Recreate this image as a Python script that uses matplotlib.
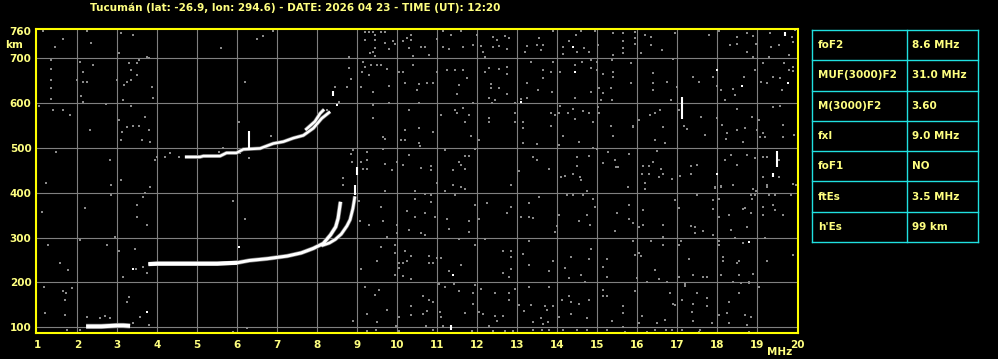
import numpy as np
import matplotlib.pyplot as plt

title = "Tucumán (lat: -26.9, lon: 294.6) - DATE: 2026 04 23 - TIME (UT): 12:20"
freq_ticks = list(range(1, 21))
height_ticks = [100, 200, 300, 400, 500, 600, 700, 760]

param_names = ["foF2", "MUF(3000)F2", "M(3000)F2", "fxI", "foF1", "ftEs", "h'Es"]
param_values = ["8.6 MHz", "31.0 MHz", "3.60", "9.0 MHz", "NO", "3.5 MHz", "99 km"]

# sporadic E trace
es_f = [2.22, 2.4, 2.6, 2.8, 3.0, 3.15, 3.32]
es_h = [102, 102, 102, 103, 104, 104, 103]

# F2 ordinary trace
o_f = [3.78, 4.0, 4.5, 5.0, 5.5, 6.0, 6.3, 6.75, 7.25, 7.6, 7.9, 8.15, 8.33, 8.46, 8.52, 8.58]
o_h = [241, 242, 242, 242, 242, 244, 249, 253, 259, 266, 276, 287, 306, 324, 343, 380]

# F2 extraordinary trace
x_f = [8.1, 8.3, 8.45, 8.6, 8.74, 8.82, 8.89, 8.94]
x_h = [282, 288, 296, 308, 326, 340, 365, 392]

# second hop (2F) traces
f2_f = [4.69, 5.07, 5.15, 5.57, 5.73, 5.98, 6.15, 6.57, 6.9, 7.15, 7.4, 7.65, 7.9, 8.11, 8.32]
f2_h = [480, 480, 482, 482, 489, 489, 497, 499, 510, 514, 522, 528, 544, 566, 581]
f2x_f = [7.7, 7.94, 8.07, 8.17]
f2x_h = [540, 559, 577, 586]

# isolated white echoes
spot_f = [3.4, 3.73, 6.03, 11.39, 13.1, 14.39, 14.44, 18.8, 19.77, 17.98, 18.63, 17.98, 8.5]
spot_h = [229, 135, 280, 217, 603, 726, 670, 291, 645, 675, 639, 443, 596]
spike_f = [6.28, 8.4, 11.33, 17.13, 19.48, 19.4, 19.69, 8.95, 8.98]
spike_lo = [500, 617, 95, 565, 458, 436, 749, 396, 440]
spike_hi = [538, 626, 106, 613, 493, 445, 759, 418, 457]

# grey background noise (freq MHz, height km)
noise = [
    (1.14, 762), (1.64, 742), (1.45, 726), (1.34, 696), (1.34, 677), (1.34, 651), (1.34, 633),
    (1.34, 610), (1.03, 593), (1.39, 584), (1.64, 584), (2.24, 762), (2.34, 735), (2.07, 692),
    (2.39, 685), (2.14, 670), (2.14, 648), (2.25, 648), (2.0, 651), (2.09, 616), (2.14, 603),
    (2.72, 598), (3.09, 757), (3.39, 752), (3.03, 711), (3.28, 690), (3.34, 674), (3.49, 689),
    (3.55, 696), (3.74, 704), (3.78, 700), (3.49, 663), (3.34, 651), (3.24, 648), (3.0, 651),
    (3.17, 640), (3.86, 637), (3.9, 611), (3.14, 607), (3.34, 593), (5.59, 724), (6.2, 648),
    (6.49, 742), (6.65, 750), (6.89, 762), (8.8, 702), (8.8, 678), (8.84, 653), (8.74, 635),
    (8.43, 635), (8.55, 603), (8.24, 584),
    (3.03, 562), (3.11, 536), (3.23, 547), (3.4, 549), (3.53, 549), (3.78, 539), (3.69, 568),
    (3.61, 518), (3.82, 514), (3.08, 518), (2.82, 473), (3.94, 473), (4.0, 479), (4.19, 479),
    (4.32, 489), (4.54, 480), (6.03, 559), (6.83, 527), (8.9, 495), (8.83, 487), (8.86, 469),
    (5.53, 492), (5.65, 501), (6.28, 478), (6.07, 488),
    (3.08, 429), (2.83, 417), (2.83, 395), (3.82, 414), (3.69, 399), (3.48, 373), (3.63, 391),
    (3.48, 347), (3.73, 328), (2.94, 302), (2.73, 284), (3.03, 271), (3.44, 275), (3.13, 213),
    (3.73, 222), (3.65, 235), (3.47, 231), (5.88, 382), (6.19, 341), (8.63, 432), (8.63, 417),
    (9.03, 382), (9.07, 338), (9.08, 230),
    (1.47, 491), (1.22, 421), (1.12, 357), (1.27, 284), (1.57, 243), (1.77, 228), (2.07, 295),
    (2.19, 366), (2.32, 540), (1.82, 573),
    (1.17, 191), (1.65, 182), (1.72, 176), (1.7, 162), (1.86, 187), (1.18, 131), (1.7, 127),
    (1.74, 94), (2.24, 122), (2.07, 94), (2.57, 120), (2.7, 125), (2.82, 120), (3.28, 168),
    (3.24, 157), (3.4, 109), (3.78, 105), (3.57, 122), (5.9, 90), (6.24, 98), (8.89, 113),
    (9.2, 758), (9.3, 758), (9.39, 758), (9.59, 758), (9.7, 758), (9.19, 741), (9.43, 752),
    (9.44, 741), (9.43, 722), (9.39, 714), (9.44, 706), (9.32, 711), (9.7, 735), (9.89, 738),
    (9.95, 733), (9.8, 720), (10.24, 746), (10.35, 752), (10.35, 741), (10.14, 738), (10.28, 722),
    (10.4, 706), (10.6, 726), (10.7, 726), (10.8, 707), (10.99, 743), (11.14, 761), (11.34, 752),
    (11.14, 726), (11.3, 720), (11.64, 726), (11.59, 761), (11.99, 752), (11.89, 729), (12.1, 728),
    (12.14, 713), (12.2, 703), (12.39, 748), (12.5, 741), (12.7, 750), (12.8, 746), (12.39, 726),
    (12.55, 728), (12.74, 720), (13.18, 714), (13.24, 728), (13.55, 746), (13.49, 729), (13.65, 729),
    (13.58, 718), (13.89, 761), (14.13, 726), (14.3, 738), (14.47, 752), (14.59, 761), (14.13, 709),
    (14.49, 714), (14.67, 722), (14.79, 714), (14.95, 761), (15.02, 729),
    (9.14, 691), (9.2, 681), (9.11, 670), (9.35, 686), (9.49, 686), (9.6, 686), (9.74, 676),
    (9.3, 662), (9.09, 636), (9.39, 625), (9.8, 639), (10.05, 670), (10.14, 670), (10.4, 686),
    (10.2, 646), (10.5, 629), (10.55, 642), (10.74, 646), (10.89, 646), (11.24, 674), (11.43, 674),
    (11.64, 674), (11.74, 655), (11.54, 640), (11.49, 620), (11.0, 670), (12.18, 670), (12.3, 679),
    (12.53, 677), (12.74, 681), (12.74, 664), (12.34, 642), (12.34, 634), (12.53, 634), (12.74, 620),
    (12.3, 612), (12.45, 607), (12.36, 601), (12.95, 601), (13.1, 609), (13.24, 646), (13.35, 691),
    (13.65, 674), (13.64, 656), (13.84, 670), (13.88, 691), (14.07, 670), (13.24, 612), (13.51, 629),
    (13.86, 625), (14.44, 685), (14.61, 691), (14.84, 696), (14.99, 691), (14.85, 679), (15.0, 674),
    (14.45, 612), (14.84, 625), (15.04, 633),
    (9.39, 595), (9.39, 567), (9.8, 601), (9.64, 525), (9.7, 521), (10.28, 584), (10.2, 540),
    (10.09, 517), (10.2, 517), (10.53, 601), (10.54, 545), (10.53, 512), (10.57, 505), (10.89, 536),
    (11.09, 573), (11.43, 584), (11.49, 577), (11.64, 589), (11.78, 573), (11.9, 601), (11.7, 558),
    (11.85, 527), (12.05, 517), (12.28, 567), (12.28, 558), (12.95, 577), (12.95, 558), (13.13, 558),
    (13.13, 545), (13.84, 579), (13.94, 573), (14.07, 594), (14.05, 577), (14.28, 577), (14.4, 588),
    (14.45, 564), (14.63, 582), (14.8, 577), (14.9, 558), (15.05, 577), (13.85, 549), (14.14, 527),
    (14.05, 506), (14.54, 514), (13.14, 510), (13.49, 508), (15.02, 592),
    (9.24, 491), (9.09, 469), (9.24, 473), (9.24, 453), (9.15, 453), (9.64, 497), (9.68, 465),
    (9.86, 450), (9.99, 469), (10.29, 485), (10.14, 463), (10.59, 456), (10.84, 460), (10.84, 450),
    (11.2, 495), (11.55, 469), (11.6, 463), (11.7, 482), (11.8, 482), (11.7, 453), (11.4, 450),
    (11.94, 497), (13.05, 448), (13.39, 480), (13.49, 473), (13.79, 454), (14.09, 436), (14.2, 438),
    (14.4, 441), (14.57, 436), (14.49, 460), (14.79, 482), (14.89, 500), (15.0, 497), (14.5, 480),
    (9.7, 405), (10.45, 405), (10.68, 397), (10.84, 396), (10.99, 422), (11.39, 418), (11.59, 412),
    (11.7, 409), (11.2, 405), (11.45, 396), (10.84, 379), (10.45, 387), (10.24, 360), (10.45, 345),
    (10.7, 355), (10.95, 345), (11.24, 342), (11.28, 320), (10.59, 310), (10.7, 307), (10.3, 318),
    (9.99, 310), (9.99, 329), (9.74, 301), (9.28, 329), (9.64, 338), (9.59, 368), (11.94, 373),
    (12.03, 342), (11.8, 338), (11.8, 312), (12.24, 377), (12.74, 355), (12.85, 368), (12.84, 418),
    (13.1, 345), (13.3, 345), (13.39, 344), (13.3, 377), (13.55, 390), (14.24, 394), (14.4, 396),
    (14.63, 396), (14.75, 405), (14.89, 387), (14.95, 368), (14.74, 351), (14.55, 338), (14.82, 329),
    (14.04, 351), (13.99, 325), (13.95, 312), (14.59, 429),
    (11.55, 297), (12.2, 297), (11.94, 284), (13.3, 293), (9.59, 280), (9.95, 284), (9.95, 266),
    (10.2, 271), (10.35, 260), (9.5, 248), (10.05, 243), (10.14, 243), (10.24, 247), (9.95, 217),
    (10.14, 214), (10.34, 208), (10.03, 232), (9.1, 231), (10.8, 258), (11.0, 254), (11.1, 254),
    (10.8, 243), (10.89, 243), (11.28, 226), (11.59, 238), (12.65, 271), (12.84, 271), (12.85, 256),
    (12.64, 221), (12.8, 212), (12.84, 231), (13.14, 263), (13.3, 238), (13.8, 226), (13.89, 248),
    (14.2, 232), (14.34, 256), (14.29, 210), (14.59, 217), (14.85, 275), (14.79, 253), (14.7, 201),
    (9.2, 191), (9.53, 184), (9.45, 173), (9.24, 129), (9.49, 112), (9.74, 139), (10.03, 124),
    (10.35, 147), (10.34, 127), (10.64, 169), (10.64, 129), (10.74, 137), (10.78, 161), (10.89, 156),
    (11.05, 196), (11.2, 191), (11.42, 196), (11.55, 182), (11.07, 135), (11.1, 122), (11.7, 132),
    (11.94, 195), (11.89, 176), (11.89, 152), (12.09, 186), (12.05, 134), (12.15, 129), (12.28, 102),
    (12.45, 176), (12.45, 126), (12.49, 113), (12.64, 126), (12.8, 176), (12.8, 161), (12.95, 186),
    (13.05, 150), (13.17, 137), (13.3, 191), (13.34, 150), (13.39, 112), (13.59, 121), (13.65, 107),
    (13.7, 147), (13.74, 139), (13.77, 112), (13.89, 147), (13.8, 191), (14.05, 122), (14.11, 161),
    (14.3, 169), (14.34, 156), (14.35, 129), (14.55, 152), (14.79, 161), (14.74, 121), (10.71, 102),
    (11.14, 102), (9.97, 102), (9.24, 92), (9.47, 94), (10.03, 92), (10.89, 94), (11.86, 91),
    (12.4, 91), (12.69, 91), (12.9, 92), (13.4, 94), (13.61, 94), (13.8, 94), (14.14, 94),
    (14.49, 94), (14.74, 94),
    (15.39, 756), (15.64, 757), (15.64, 739), (15.64, 722), (15.64, 711), (15.4, 707), (15.95, 759),
    (15.95, 745), (15.95, 733), (16.09, 711), (16.2, 752), (16.34, 748), (16.34, 730), (16.61, 719),
    (16.95, 756), (16.89, 698), (17.8, 752), (18.03, 762), (18.49, 748), (18.32, 730), (18.5, 732),
    (18.74, 756), (18.9, 750), (18.97, 733), (18.74, 715), (18.9, 704), (19.32, 756), (19.34, 726),
    (19.54, 730), (19.3, 704), (19.67, 689), (19.8, 707), (19.9, 737), (19.87, 748), (19.94, 763),
    (15.36, 696), (15.84, 689), (15.39, 670), (15.39, 659), (15.14, 665), (15.34, 633), (15.14, 622),
    (15.36, 607), (15.84, 644), (16.39, 668), (16.39, 644), (16.39, 629), (16.74, 648), (16.99, 637),
    (16.84, 607), (17.39, 658), (17.53, 648), (17.9, 659), (17.99, 638), (18.09, 629), (18.2, 607),
    (18.39, 631), (18.45, 618), (18.67, 658), (18.95, 674), (19.15, 689), (19.24, 644), (19.57, 655),
    (19.61, 629), (19.8, 674), (19.89, 672), (19.9, 681), (19.1, 648), (19.4, 659), (15.09, 607),
    (16.45, 577), (16.57, 585), (16.32, 573), (16.05, 562), (15.9, 549), (15.89, 546), (16.64, 547),
    (16.45, 518), (16.7, 512), (15.34, 549), (15.39, 527), (17.17, 549), (17.25, 542), (17.03, 585),
    (17.59, 570), (17.7, 529), (17.99, 566), (18.11, 551), (18.24, 533), (18.22, 521), (18.49, 588),
    (18.49, 540), (18.7, 544), (19.03, 562), (19.14, 533), (19.07, 525), (19.2, 525), (19.64, 551),
    (19.64, 525), (19.92, 529), (19.4, 592), (19.57, 594), (18.64, 514), (18.86, 568), (18.99, 540),
    (15.28, 492), (15.45, 473), (15.47, 458), (15.53, 458), (15.8, 486), (16.15, 460), (16.3, 460),
    (16.4, 469), (16.5, 494), (16.59, 454), (16.65, 442), (16.86, 430), (17.07, 437), (17.34, 460),
    (17.49, 462), (17.34, 442), (18.2, 473), (18.34, 484), (18.49, 462), (18.74, 484), (18.95, 477),
    (19.15, 479), (19.24, 479), (19.53, 473), (19.55, 436), (19.14, 436), (19.24, 417), (19.9, 420),
    (17.95, 414), (18.09, 415), (18.39, 417), (16.11, 443), (16.2, 421), (16.3, 442), (15.15, 466),
    (15.78, 414), (16.55, 436),
    (16.2, 408), (17.95, 411), (18.09, 414), (18.9, 408), (18.96, 403), (19.24, 414), (19.96, 417),
    (17.49, 395), (16.95, 384), (17.9, 384), (18.03, 386), (18.84, 395), (18.94, 395), (18.86, 386),
    (19.3, 395), (19.45, 395), (19.84, 395), (16.14, 362), (15.8, 373), (15.49, 356), (17.05, 367),
    (17.9, 364), (18.65, 364), (18.7, 367), (18.3, 350), (18.03, 347), (18.84, 356), (19.14, 369),
    (19.14, 350), (19.4, 373), (19.45, 362), (19.64, 350), (15.8, 342), (15.89, 333), (16.05, 324),
    (16.14, 328), (15.45, 315), (16.64, 328), (17.34, 327), (17.45, 324), (17.64, 315), (17.45, 310),
    (17.9, 306), (18.34, 317), (18.74, 324), (18.45, 300), (19.2, 300), (18.65, 287), (15.89, 293),
    (16.34, 293), (16.64, 301), (16.64, 284), (17.09, 292), (17.04, 284), (18.03, 292), (18.05, 284),
    (16.05, 265), (16.09, 259), (15.95, 261), (15.24, 252), (15.14, 235), (15.24, 213), (15.99, 211),
    (16.45, 228), (16.55, 207), (16.74, 202), (17.05, 213), (17.3, 252), (17.39, 217), (17.64, 213),
    (17.74, 213), (18.14, 257), (18.15, 248), (18.09, 217), (18.53, 248), (18.49, 243), (18.55, 217),
    (18.9, 220), (19.24, 248), (19.89, 261), (18.8, 198), (18.4, 202), (18.59, 198), (17.2, 196),
    (15.15, 183), (15.15, 170), (15.24, 170), (15.24, 94), (15.36, 113), (15.64, 147), (15.64, 131),
    (15.65, 101), (15.7, 90), (15.95, 182), (16.03, 109), (16.24, 90), (16.49, 109), (16.68, 116),
    (16.71, 94), (16.74, 202), (16.82, 176), (16.86, 95), (16.9, 152), (16.94, 150), (17.11, 161),
    (17.2, 192), (17.39, 153), (17.36, 135), (17.39, 113), (17.57, 95), (17.49, 176), (17.74, 165),
    (17.74, 147), (17.86, 109), (18.03, 127), (18.24, 131), (18.29, 157), (18.4, 202), (18.53, 176),
    (18.8, 200), (18.7, 127), (18.85, 122), (19.03, 191), (18.74, 105), (18.78, 90), (18.3, 109),
    (17.54, 90), (17.11, 95), (16.44, 95), (16.24, 202), (16.11, 125),
]

yellow = '#ffff00'
text_yellow = '#ffff80'
grey = '#808080'
cyan = '#20e0e0'
font = dict(family='DejaVu Sans', weight='bold', size=7.5, color=text_yellow)

fig = plt.figure(figsize=(9.98, 3.59), dpi=100, facecolor='black')
ax = fig.add_axes([35.7 / 998, 1 - 333 / 359, 762 / 998, 303.7 / 359])
ax.set_facecolor('black')
ax.set_xlim(0.96, 20.01)
ax.set_ylim(87.3, 764.7)

ax.vlines(freq_ticks[1:-1], 87.3, 764.7, color=grey, lw=0.8, zorder=1)
ax.hlines(height_ticks[:-1], 0.96, 20.01, color=grey, lw=0.8, zorder=1)

nf, nh = zip(*noise)
ax.scatter(nf, nh, s=3.0, marker='s', c='#8a8a8a', linewidths=0, zorder=2)

for tf, th, w in [(es_f, es_h, 2.8), (o_f, o_h, 2.2), (x_f, x_h, 1.9),
                  (f2_f, f2_h, 1.8), (f2x_f, f2x_h, 1.8)]:
    ax.plot(tf, th, color='#6e6e6e', lw=w + 1.0, solid_capstyle='butt', zorder=3)
    ax.plot(tf, th, color='white', lw=w, solid_capstyle='butt', zorder=4)
# thicker start of the F2 trace
ax.plot(o_f[:6], o_h[:6], color='white', lw=2.9, solid_capstyle='butt', zorder=4)

ax.vlines(spike_f, spike_lo, spike_hi, color='white', lw=1.5, zorder=4)
ax.scatter(spot_f, spot_h, s=3.5, marker='s', c='white', linewidths=0, zorder=4)

ax.set_xticks(freq_ticks)
ax.set_xticklabels([str(v) for v in freq_ticks], fontdict=font)
ax.set_yticks(height_ticks)
ax.set_yticklabels([str(v) for v in height_ticks], fontdict=font)
ax.tick_params(axis='x', length=0, pad=5)
ax.tick_params(axis='y', length=0, pad=3)
for s in ax.spines.values():
    s.set_color(yellow)
    s.set_linewidth(1.5)

fig.text(295 / 998, 1 - 7.5 / 359, title, ha='center', va='center', **font)
fig.text(14 / 998, 1 - 45.5 / 359, 'km', ha='center', va='center', **font)
fig.text(780 / 998, 1 - 352 / 359, 'MHz', ha='center', va='center', **font)

# parameter table
tax = fig.add_axes([812 / 998, 1 - 242 / 359, 166 / 998, 212 / 359])
tax.set_xlim(0, 1)
tax.set_ylim(len(param_names), 0)
tax.axis('off')
for i in range(len(param_names) + 1):
    tax.plot([0, 1], [i, i], color=cyan, lw=1.0, clip_on=False)
for xv in [0, 0.572, 1]:
    tax.plot([xv, xv], [0, len(param_names)], color=cyan, lw=1.0, clip_on=False)
for i, (name, val) in enumerate(zip(param_names, param_values)):
    tax.text(0.036, i + 0.5, name, ha='left', va='center', **font)
    tax.text(0.6, i + 0.5, val, ha='left', va='center', **font)

fig.savefig('out.png', dpi=100, facecolor='black')
